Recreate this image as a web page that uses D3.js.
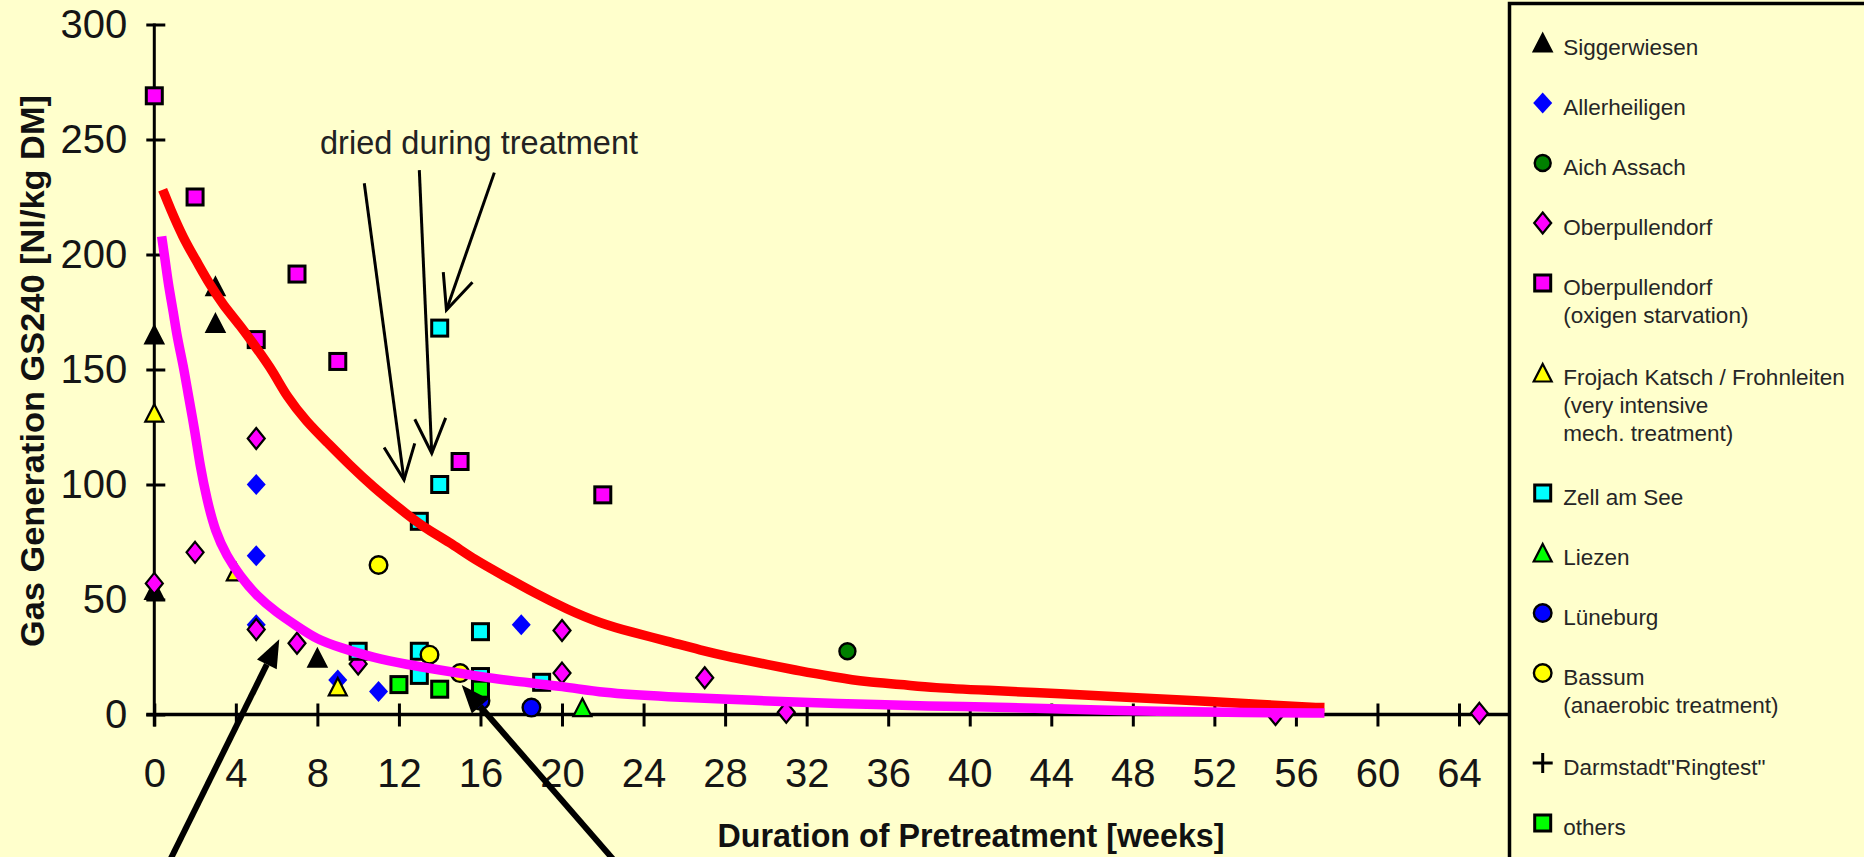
<!DOCTYPE html>
<html>
<head>
<meta charset="utf-8">
<script src="https://cdn.jsdelivr.net/npm/d3@7"></script>
<style>
  html, body { margin: 0; padding: 0; background: #ffffcc; overflow: hidden; }
  svg { display: block; }
</style>
</head>
<body>
<svg id="chart" width="1864" height="857"></svg>
<script>
// ---- axis ticks -------------------------------------------------------
const xTicks = [0, 4, 8, 12, 16, 20, 24, 28, 32, 36, 40, 44, 48, 52, 56, 60, 64];
const yTicks = [0, 50, 100, 150, 200, 250, 300];

// ---- fitted decay curves: [weeks, GS240] -------------------------------
const fitUpper = [[0.41,228.2],[0.77,220.2],[1.42,207.1],[2.08,197.0],[2.73,186.8],[3.38,178.0],
  [4.20,169.3],[5.02,159.2],[5.84,149.0],[6.49,138.2],[7.48,127.2],[8.46,118.5],[9.60,108.3],
  [10.74,98.9],[12.05,89.4],[13.20,81.4],[14.50,74.9],[15.65,67.6],[17.29,59.6],[18.59,53.1],
  [20.23,45.8],[21.86,39.7],[23.50,35.6],[25.13,32.0],[26.77,28.0],[28.40,24.7],[30.04,21.8],
  [31.67,18.9],[33.31,16.4],[34.95,14.1],[36.58,13.1],[38.22,11.6],[40.67,10.6],[44.59,9.0],
  [47.70,7.5],[50.81,6.1],[54.24,4.4],[56.85,3.1],[57.40,3.0]];
const fitLower = [[0.36,207.9],[0.52,198.4],[0.69,186.8],[0.93,175.2],[1.13,163.5],[1.42,151.9],
  [1.64,140.3],[2.00,122.8],[2.24,108.3],[2.57,93.8],[3.00,79.2],[3.55,69.0],[4.20,60.3],
  [5.02,51.6],[6.00,44.3],[6.99,38.5],[7.97,32.7],[9.11,29.1],[10.74,24.7],[12.38,21.8],
  [14.01,19.3],[15.65,17.0],[17.29,14.8],[20.23,12.1],[21.86,9.5],[24.97,7.7],[29.55,6.1],
  [33.31,4.8],[38.22,3.6],[41.60,3.2],[47.00,1.7],[54.07,0.7],[57.40,0.6]];

// ---- measured samples: [weeks, GS240] ----------------------------------
const siggerwiesen   = [[0,165],[0,54],[3,186],[3,170],[8,24.5]];
const allerheiligen  = [[5,100],[5,69],[5,39],[9,15],[11,10],[18,39]];
const aichAssach     = [[34,27.5]];
const oberpullendorf = [[0,57],[2,70.5],[5,120],[5,37],[7,31],[10,22],[20,36.5],[20,18],[27,16],[31,1],[55,0],[65,0.5]];
const oberpullO2     = [[0,269],[2,225],[5,163],[7,191.5],[9,153.5],[15,110],[22,95.5]];
const frojach        = [[0,131],[4,62],[9,12]];
const zellAmSee      = [[14,168],[14,100],[13,84],[10,27.5],[13,27.5],[13,17],[16,36],[16,16.5],[19,14]];
const liezen         = [[21,3]];
const lueneburg      = [[16,6],[18.5,3]];
const bassum         = [[11,65],[13.5,26],[15,18]];
const darmstadt      = [];
const others         = [[12,13],[14,11],[16,11]];

// ---- legend labels (one entry per line) ---------------------------------
const legendLabels = [
  ['Siggerwiesen'],
  ['Allerheiligen'],
  ['Aich Assach'],
  ['Oberpullendorf'],
  ['Oberpullendorf', '(oxigen starvation)'],
  ['Frojach Katsch / Frohnleiten', '(very intensive', 'mech. treatment)'],
  ['Zell am See'],
  ['Liezen'],
  ['Lüneburg'],
  ['Bassum', '(anaerobic treatment)'],
  ['Darmstadt"Ringtest"'],
  ['others']
];

// ---- annotations (data units) --------------------------------------------
const driedNote = { text: 'dried during treatment', at: [8.13, 243.6] };
const driedArrows = [
  { from: [10.30, 231.0], to: [12.25, 102.0] },
  { from: [13.00, 236.7], to: [13.61, 113.6] },
  { from: [16.68, 235.6], to: [14.33, 175.9] }
];
const pointerArrows = [
  { from: [0.40, -70], to: [6.13, 32.7] },
  { from: [23.2, -70], to: [15.08, 12.8] }
];

// ---- series styling ----------------------------------------------------
const series = [
  { data: siggerwiesen,   shape: 'triangle', fill: '#000000', stroke: '#000' },
  { data: allerheiligen,  shape: 'diamondSolid', fill: '#0000ff', stroke: 'none' },
  { data: aichAssach,     shape: 'circleSmall', fill: '#008000', stroke: '#000' },
  { data: oberpullendorf, shape: 'diamond', fill: '#ff00ff', stroke: '#000' },
  { data: oberpullO2,     shape: 'square', fill: '#ff00ff', stroke: '#000' },
  { data: frojach,        shape: 'triangle', fill: '#ffff00', stroke: '#000' },
  { data: zellAmSee,      shape: 'square', fill: '#00ffff', stroke: '#000' },
  { data: liezen,         shape: 'triangle', fill: '#00ff00', stroke: '#000' },
  { data: lueneburg,      shape: 'circle', fill: '#0000ff', stroke: '#000' },
  { data: bassum,         shape: 'circle', fill: '#ffff00', stroke: '#000' },
  { data: darmstadt,      shape: 'plus', fill: 'none', stroke: '#000' },
  { data: others,         shape: 'square', fill: '#00ff00', stroke: '#000' }
];

const FONT = '"Liberation Sans", Arial, Helvetica, sans-serif';
const W = 1864, H = 857;
const svg = d3.select('#chart');
svg.append('rect').attr('width', W).attr('height', H).attr('fill', '#ffffcc');

const x = d3.scaleLinear().domain([0, 64]).range([154.3, 1459]);
const y = d3.scaleLinear().domain([0, 300]).range([714.5, 24.5]);
const legendLeft = 1509.5;

// ---- marker glyphs -------------------------------------------------------
function drawMarker(g, s) {
  switch (s.shape) {
    case 'square':
      g.append('rect').attr('x', -8).attr('y', -8).attr('width', 16).attr('height', 16)
        .attr('fill', s.fill).attr('stroke', s.stroke).attr('stroke-width', 3);
      break;
    case 'triangle':
      g.append('path').attr('d', 'M0,-9L9,8.5L-9,8.5Z')
        .attr('fill', s.fill).attr('stroke', s.stroke).attr('stroke-width', 2.2)
        .attr('stroke-linejoin', 'miter');
      break;
    case 'diamond':
      g.append('path').attr('d', 'M0,-10.5L8.5,0L0,10.5L-8.5,0Z')
        .attr('fill', s.fill).attr('stroke', s.stroke).attr('stroke-width', 2.2);
      break;
    case 'diamondSolid':
      g.append('path').attr('d', 'M0,-10.5L9.5,0L0,10.5L-9.5,0Z').attr('fill', s.fill);
      break;
    case 'circle':
      g.append('circle').attr('r', 8.8).attr('fill', s.fill)
        .attr('stroke', s.stroke).attr('stroke-width', 2.4);
      break;
    case 'circleSmall':
      g.append('circle').attr('r', 8).attr('fill', s.fill)
        .attr('stroke', s.stroke).attr('stroke-width', 2.4);
      break;
    case 'plus':
      g.append('path').attr('d', 'M-10,0H10M0,-10V10')
        .attr('stroke', s.stroke).attr('stroke-width', 3).attr('fill', 'none');
      break;
  }
}

// ---- axes ------------------------------------------------------------------
const xAxis = d3.axisBottom(x).tickValues(xTicks).tickSizeInner(12).tickSizeOuter(0);
const gx = svg.append('g').attr('transform', `translate(0,${y(0)})`).call(xAxis)
  .attr('font-family', FONT).attr('font-size', 40);
gx.select('.domain').remove();
gx.selectAll('.tick line').attr('y1', -11).attr('y2', 12).attr('stroke', '#000').attr('stroke-width', 3);
gx.selectAll('.tick text').attr('y', 72.5).attr('dy', null).attr('fill', '#151515');

const yAxis = d3.axisLeft(y).tickValues(yTicks).tickSizeInner(8).tickSizeOuter(0).tickPadding(19);
const gy = svg.append('g').attr('transform', `translate(${x(0)},0)`).call(yAxis)
  .attr('font-family', FONT).attr('font-size', 40);
gy.select('.domain').remove();
gy.selectAll('.tick line').attr('x1', 11).attr('x2', -8).attr('stroke', '#000').attr('stroke-width', 3);
gy.selectAll('.tick text').attr('fill', '#151515');

svg.append('line').attr('x1', x(0)).attr('x2', x(0))
  .attr('y1', y(300) - 1).attr('y2', y(0) + 12)
  .attr('stroke', '#000').attr('stroke-width', 3);
svg.append('line').attr('x1', x(0) - 8).attr('x2', legendLeft)
  .attr('y1', y(0)).attr('y2', y(0))
  .attr('stroke', '#000').attr('stroke-width', 3.5);

// axis titles
svg.append('text')
  .attr('x', 971).attr('y', 847)
  .attr('text-anchor', 'middle').attr('font-family', FONT).attr('font-weight', 'bold')
  .attr('font-size', 33).attr('textLength', 507).attr('lengthAdjust', 'spacingAndGlyphs')
  .attr('fill', '#111')
  .text('Duration of Pretreatment [weeks]');
svg.append('text')
  .attr('transform', 'translate(44,371) rotate(-90)')
  .attr('text-anchor', 'middle').attr('font-family', FONT).attr('font-weight', 'bold')
  .attr('font-size', 34).attr('textLength', 552).attr('lengthAdjust', 'spacingAndGlyphs')
  .attr('fill', '#111')
  .text('Gas Generation GS240 [Nl/kg DM]');

// ---- scatter markers -----------------------------------------------------
const marks = svg.append('g');
series.forEach(s => {
  s.data.forEach(d => {
    const g = marks.append('g').attr('transform', `translate(${x(d[0])},${y(d[1])})`);
    drawMarker(g, s);
  });
});

// ---- fitted curves ----------------------------------------------------------
const line = d3.line().x(d => x(d[0])).y(d => y(d[1])).curve(d3.curveBasis);
svg.append('path').attr('d', line(fitUpper)).attr('fill', 'none')
  .attr('stroke', '#ff0000').attr('stroke-width', 9.5);
svg.append('path').attr('d', line(fitLower)).attr('fill', 'none')
  .attr('stroke', '#ff00ff').attr('stroke-width', 9.5);

// ---- annotations ------------------------------------------------------------
svg.append('text')
  .attr('x', x(driedNote.at[0])).attr('y', y(driedNote.at[1]))
  .attr('font-family', FONT).attr('font-size', 32.5)
  .attr('textLength', 318).attr('lengthAdjust', 'spacingAndGlyphs')
  .attr('fill', '#222')
  .text(driedNote.text);

const notes = svg.append('g').attr('stroke', '#000').attr('fill', 'none');
driedArrows.forEach(a => {
  const x0 = x(a.from[0]), y0 = y(a.from[1]), x1 = x(a.to[0]), y1 = y(a.to[1]);
  const ang = Math.atan2(y0 - y1, x0 - x1);
  const len = 38, half = 24 * Math.PI / 180;
  notes.append('line').attr('x1', x0).attr('y1', y0).attr('x2', x1).attr('y2', y1)
    .attr('stroke-width', 3);
  notes.append('path')
    .attr('d', `M${x1 + len * Math.cos(ang - half)},${y1 + len * Math.sin(ang - half)}` +
               `L${x1},${y1}L${x1 + len * Math.cos(ang + half)},${y1 + len * Math.sin(ang + half)}`)
    .attr('stroke-width', 3).attr('stroke-linejoin', 'miter');
});

pointerArrows.forEach(a => {
  const x0 = x(a.from[0]), y0 = y(a.from[1]), x1 = x(a.to[0]), y1 = y(a.to[1]);
  const ang = Math.atan2(y0 - y1, x0 - x1);
  const len = 28, hw = 11;
  const bx = x1 + len * Math.cos(ang), by = y1 + len * Math.sin(ang);
  svg.append('line').attr('x1', x0).attr('y1', y0).attr('x2', bx).attr('y2', by)
    .attr('stroke', '#000').attr('stroke-width', 6);
  const px = -Math.sin(ang) * hw, py = Math.cos(ang) * hw;
  svg.append('path')
    .attr('d', `M${x1},${y1}L${bx + px},${by + py}L${bx - px},${by - py}Z`)
    .attr('fill', '#000');
});

// ---- legend ---------------------------------------------------------------------
svg.append('rect').attr('x', legendLeft).attr('y', 3.5)
  .attr('width', 500).attr('height', 1000)
  .attr('fill', '#ffffcc').attr('stroke', '#000').attr('stroke-width', 3.5);

const legend = svg.append('g').attr('font-family', FONT).attr('font-size', 22.5).attr('fill', '#262626');
let ly = 43;
legendLabels.forEach((lines, i) => {
  const g = legend.append('g').attr('transform', `translate(1542.7,${ly})`);
  drawMarker(g, series[i]);
  const t = legend.append('text').attr('x', 1563.3).attr('y', ly + 12);
  lines.forEach((ln, k) => {
    t.append('tspan').attr('x', 1563.3).attr('dy', k === 0 ? 0 : 28).text(ln);
  });
  ly += 60 + 30 * (lines.length - 1);
});
</script>
</body>
</html>
